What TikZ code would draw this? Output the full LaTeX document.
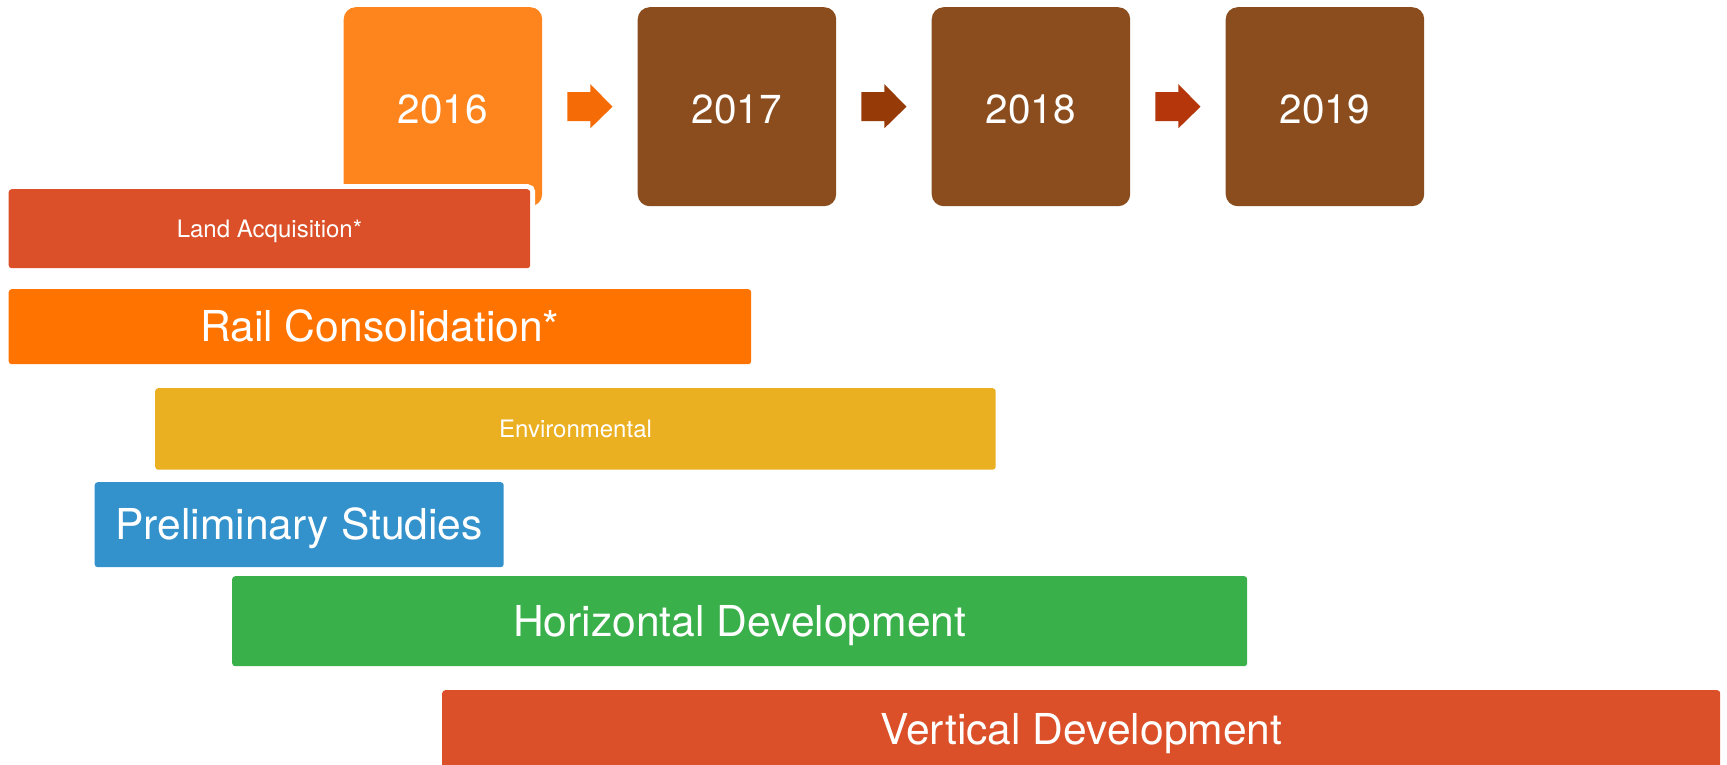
\documentclass[tikz,border=0pt]{standalone}
\usepackage{fontspec}
\setmainfont{TeX Gyre Heros}
\usetikzlibrary{calc}
\definecolor{yrorange}{HTML}{FE841E}
\definecolor{yrbrown}{HTML}{8B4D1E}
\definecolor{arA}{HTML}{F56C06}
\definecolor{arB}{HTML}{963A08}
\definecolor{arC}{HTML}{B4360A}
\definecolor{landred}{HTML}{DB5028}
\definecolor{railor}{HTML}{FF7300}
\definecolor{envy}{HTML}{EBAF22}
\definecolor{prelb}{HTML}{3392CB}
\definecolor{horg}{HTML}{39B04A}
\definecolor{vertr}{HTML}{DB5028}
\tikzset{yeararrow/.pic={\fill[pic actions] (-22.5,-14.5) -- (0.5,-14.5) -- (0.5,-22.5) -- (22.5,0) -- (0.5,21.5) -- (0.5,14.5) -- (-22.5,14.5) -- cycle;}}
\begin{document}
\begin{tikzpicture}[x=1pt,y=-1pt,
  yearbox/.style={rounded corners=12pt, anchor=north west, inner sep=0pt,
    minimum width=198.5pt, minimum height=199pt, text=white,
    font=\fontsize{40.5}{48}\selectfont, text height=33.5pt, text depth=0pt},
  bar/.style={rounded corners=3pt, anchor=north west, inner sep=0pt, text=white},
  bigtext/.style={font=\fontsize{42.6}{50}\selectfont, text height=30.5pt, text depth=0pt},
  smalltext/.style={font=\fontsize{24}{29}\selectfont, text height=17pt, text depth=0pt}]
\useasboundingbox (0,0) rectangle (1727,764);
\clip (0,0) rectangle (1727,764);
\node[yearbox, fill=yrorange] (y16) at (343.5,7) {2016};
\node[yearbox, fill=yrbrown] (y17) at (637.5,7) {2017};
\node[yearbox, fill=yrbrown] (y18) at (931.5,7) {2018};
\node[yearbox, fill=yrbrown] (y19) at (1225.5,7) {2019};
\pic[fill=arA] at ($(y16.east)!0.5!(y17.west)$) {yeararrow};
\pic[fill=arB] at ($(y17.east)!0.5!(y18.west)$) {yeararrow};
\pic[fill=arC] at ($(y18.east)!0.5!(y19.west)$) {yeararrow};
\node[bar, smalltext, fill=landred, minimum width=521.5pt, minimum height=79pt,
  preaction={draw=white, line width=10pt}] (land) at (8.5,189) {Land Acquisition*};
\node[bar, bigtext, fill=railor, minimum width=742.5pt, minimum height=75pt] (rail) at (8.5,289) {Rail Consolidation*};
\node[bar, smalltext, fill=envy, minimum width=840.5pt, minimum height=81.5pt] (env) at (155,388) {Environmental};
\node[bar, bigtext, fill=prelb, minimum width=409pt, minimum height=85pt] (prel) at (94.5,482) {Preliminary Studies};
\node[bar, bigtext, fill=horg, minimum width=1015pt, minimum height=90pt] (horiz) at (232,576) {Horizontal Development};
\node[bar, bigtext, fill=vertr, minimum width=1278pt, minimum height=78pt] (vert) at (442,690) {Vertical Development};
\end{tikzpicture}
\end{document}
